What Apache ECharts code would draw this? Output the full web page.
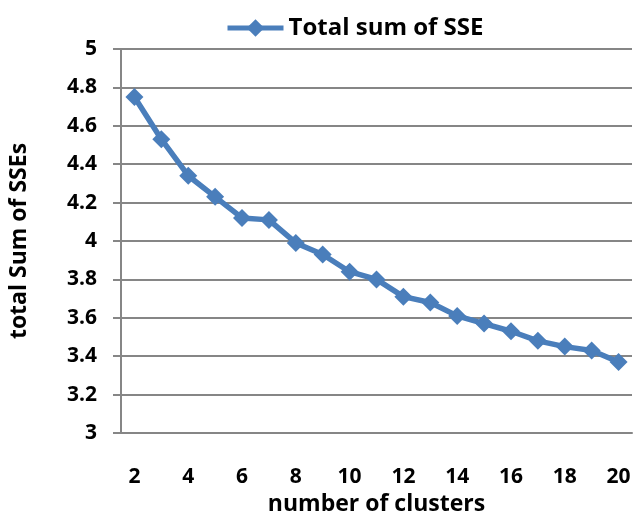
<!DOCTYPE html>
<html>
<head>
<meta charset="utf-8">
<script src="https://cdn.jsdelivr.net/npm/echarts@6/dist/echarts.min.js"></script>
<style>html,body{margin:0;padding:0;background:#fff}#c{width:633px;height:512px}</style>
</head>
<body>
<div id="c"></div>
<script>
const categories = ['2','3','4','5','6','7','8','9','10','11','12','13','14','15','16','17','18','19','20'];
const sseValues = [4.75,4.53,4.34,4.23,4.12,4.11,3.99,3.93,3.84,3.80,3.71,3.68,3.61,3.57,3.53,3.48,3.45,3.43,3.37];
const seriesName = 'Total sum of SSE';
const xName = 'number of clusters';
const yName = 'total Sum of SSEs';

const FONT = '"Open Sans", sans-serif';
const BLUE = '#4A7EBB';
const chart = echarts.init(document.getElementById('c'), null, {renderer:'canvas'});
chart.setOption({
  animation: false,
  backgroundColor: '#fff',
  textStyle: {fontFamily: FONT},
  legend: {
    data: [seriesName],
    left: 225, top: 16, padding: 0,
    itemWidth: 56, itemHeight: 22, itemGap: 4,
    lineStyle: {width: 5, color: BLUE},
    itemStyle: {color: BLUE},
    textStyle: {fontFamily: FONT, fontWeight: 'bold', fontSize: 24, color: '#000'}
  },
  grid: {left: 121, right: 1, top: 49, bottom: 79, containLabel: false, outerBoundsMode: 'none'},
  xAxis: {
    type: 'category',
    data: categories,
    boundaryGap: true,
    name: xName,
    nameLocation: 'middle',
    nameGap: 51,
    nameTextStyle: {fontFamily: FONT, fontWeight: 'bold', fontSize: 23, color: '#000'},
    axisLine: {lineStyle: {color: '#868686', width: 2}},
    axisTick: {show: false},
    axisLabel: {interval: 1, margin: 34, fontFamily: FONT, fontWeight: 'bold', fontSize: 21, color: '#000'},
    splitLine: {show: false}
  },
  yAxis: {
    type: 'value',
    min: 3, max: 5, interval: 0.2,
    name: yName,
    nameLocation: 'middle',
    nameGap: 90,
    nameTextStyle: {fontFamily: FONT, fontWeight: 'bold', fontSize: 23, color: '#000'},
    axisLine: {show: true, lineStyle: {color: '#868686', width: 2}},
    axisTick: {show: true, length: 8, lineStyle: {color: '#868686', width: 2}},
    axisLabel: {margin: 24, fontFamily: FONT, fontWeight: 'bold', fontSize: 21, color: '#000',
      formatter: v => String(Math.round(v*10)/10)},
    splitLine: {show: true, lineStyle: {color: '#868686', width: 2}}
  },
  series: [{
    name: seriesName,
    type: 'line',
    data: sseValues,
    symbol: 'diamond',
    symbolSize: 18,
    showAllSymbol: true,
    itemStyle: {color: BLUE},
    lineStyle: {color: BLUE, width: 5.5}
  }]
});
</script>
</body>
</html>
